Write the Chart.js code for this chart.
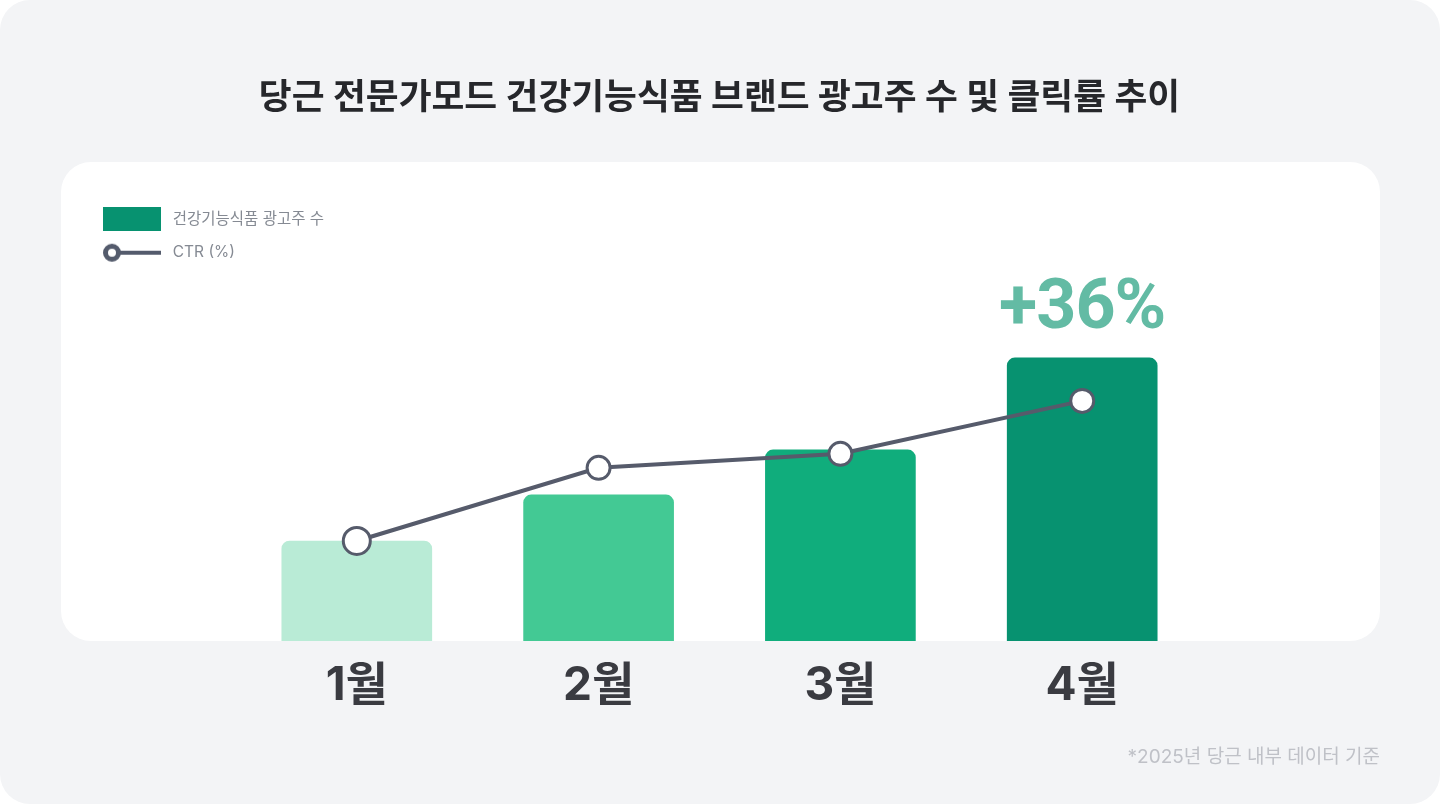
<!DOCTYPE html>
<html lang="ko">
<head>
<meta charset="utf-8">
<script src="https://cdn.jsdelivr.net/npm/chart.js@4/dist/chart.umd.min.js"></script>
<style>
html,body{margin:0;padding:0;background:#fff;width:1440px;height:804px;overflow:hidden}
#card{position:absolute;left:0;top:0;width:1440px;height:804px;background:#f3f4f6;border-radius:30px}
#panel{position:absolute;left:61px;top:162px;width:1319px;height:479px;background:#fff;border-radius:30px}
canvas{position:absolute;left:0;top:0}
</style>
</head>
<body>
<div id="card"></div>
<div id="panel"></div>
<canvas id="c" width="1440" height="804" style="width:1440px;height:804px"></canvas>
<script>
const FONT = "Inter, 'Noto Sans CJK KR', sans-serif";
const chartTitle = "당근 전문가모드 건강기능식품 브랜드 광고주 수 및 클릭률 추이";
const categories = ["1월", "2월", "3월", "4월"];
const advertiserIndex = [100, 146, 191, 283];
const ctrIndex = [100, 118.8, 122.4, 136];
const barColors = ["#B9EBD6", "#43C994", "#10AD7C", "#079270"];
const seriesNames = ["건강기능식품 광고주 수", "CTR (%)"];
const growthLabel = "+36%";
const footnote = "*2025년 당근 내부 데이터 기준";

function swatchBar() {
  const s = document.createElement("canvas"); s.width = 62; s.height = 24;
  const x = s.getContext("2d"); x.fillStyle = "#079270"; x.fillRect(0, 0, 58, 24);
  return s;
}
function swatchLine() {
  const s = document.createElement("canvas"); s.width = 62; s.height = 24;
  const x = s.getContext("2d");
  x.strokeStyle = "#545B6C"; x.lineWidth = 4;
  x.beginPath(); x.moveTo(9, 12); x.lineTo(58, 12); x.stroke();
  x.lineWidth = 5; x.fillStyle = "#fff";
  x.beginPath(); x.arc(9, 12, 6.5, 0, Math.PI * 2); x.fill(); x.stroke();
  return s;
}

const placeLegend = {
  id: "placeLegend",
  afterLayout(chart) {
    const l = chart.legend, w = l.width, h = l.height;
    l.left = 85; l.top = 193.5; l.right = l.left + w + 40; l.bottom = l.top + h + 40;
  }
};
const annotations = {
  id: "annotations",
  afterDraw(chart) {
    const ctx = chart.ctx, bar = chart.getDatasetMeta(1).data[3];
    ctx.save();
    ctx.fillStyle = "#63BBA4";
    ctx.font = "700 70px Roboto, " + FONT;
    ctx.letterSpacing = "-1px";
    ctx.textAlign = "center";
    ctx.textBaseline = "alphabetic";
    ctx.fillText(growthLabel, bar.x, bar.y - 30);
    ctx.letterSpacing = "0px";
    ctx.fillStyle = "#BFC1C7";
    ctx.font = "400 19px " + FONT;
    ctx.textAlign = "right";
    ctx.textBaseline = "middle";
    ctx.fillText(footnote, 1380, 757);
    ctx.restore();
  }
};

new Chart(document.getElementById("c"), {
  data: {
    labels: categories,
    datasets: [
      { type: "line", label: seriesNames[1], data: ctrIndex, yAxisID: "y1", order: 0,
        borderColor: "#565B6B", borderWidth: 4, tension: 0,
        pointBackgroundColor: "#fff", pointBorderColor: "#565B6B", pointBorderWidth: 3,
        pointRadius: [13.5, 11.5, 11.5, 11.5] },
      { type: "bar", label: seriesNames[0], data: advertiserIndex, yAxisID: "y", order: 1,
        backgroundColor: barColors, barThickness: 150,
        borderRadius: { topLeft: 8, topRight: 8, bottomLeft: 0, bottomRight: 0 }, borderSkipped: false }
    ]
  },
  options: {
    responsive: false, animation: false, devicePixelRatio: 1,
    layout: { padding: { left: 235.9, right: 236.9, top: 0, bottom: 0 } },
    plugins: {
      tooltip: { enabled: false },
      title: { display: true, text: chartTitle, color: "#26272B",
        font: { family: FONT, size: 35.7, weight: "700", lineHeight: 1.2 },
        padding: { top: 77, bottom: 120 } },
      legend: { display: true, position: "chartArea", align: "start",
        labels: {
          usePointStyle: true, pointStyleWidth: 62, padding: 18, color: "#858A93",
          font: { family: FONT, size: 15.5 },
          generateLabels() {
            return [
              { text: seriesNames[0], pointStyle: swatchBar(), lineWidth: 0, datasetIndex: 1, fontColor: "#858A93" },
              { text: seriesNames[1], pointStyle: swatchLine(), lineWidth: 0, datasetIndex: 0, fontColor: "#858A93" }
            ];
          }
        } }
    },
    scales: {
      x: { type: "category", grid: { display: false }, border: { display: false },
        afterFit(s) { s.height = 163; },
        ticks: { color: "#3A3B41", padding: 10, maxRotation: 0,
          font: { family: FONT, size: 46, weight: "700" } } },
      y: { min: 0, max: 401, display: false },
      y1: { min: 74.29, max: 177.4, display: false }
    }
  },
  plugins: [placeLegend, annotations]
});
</script>
</body>
</html>
